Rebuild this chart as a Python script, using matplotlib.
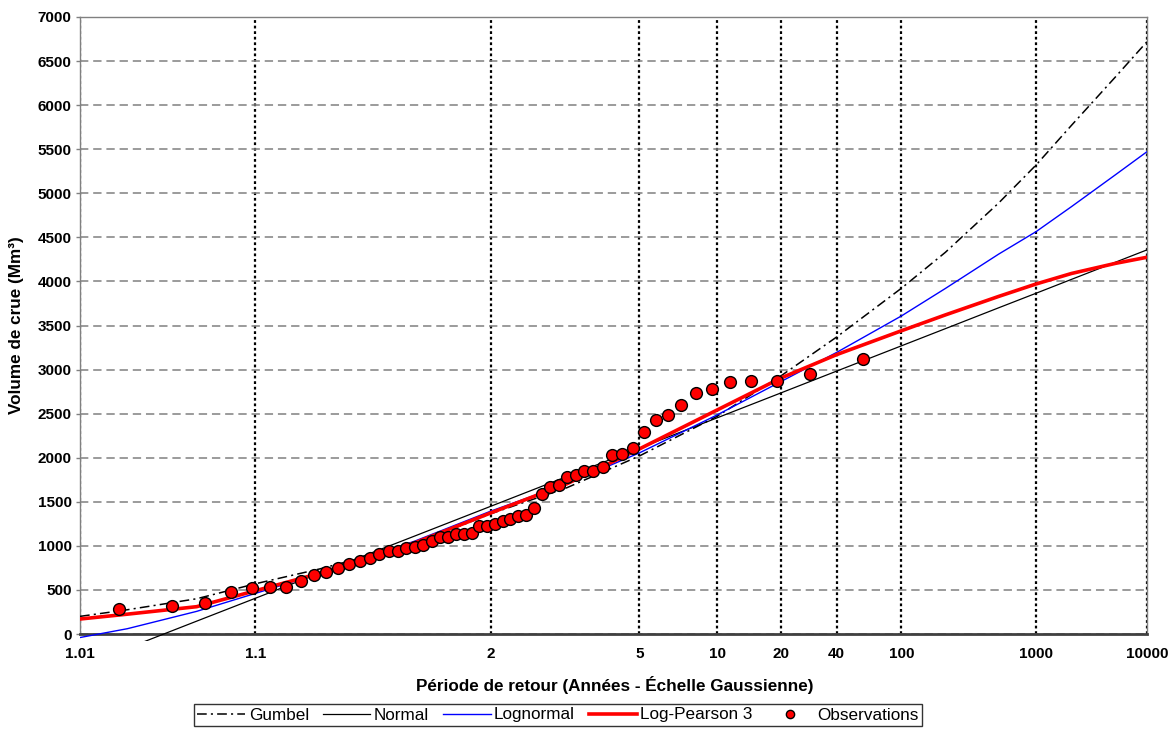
import numpy as np
import matplotlib
matplotlib.use('Agg')
import matplotlib.pyplot as plt
from matplotlib.patches import Rectangle
from matplotlib.ticker import NullLocator
from statistics import NormalDist

plt.rcParams['font.family'] = ['Liberation Sans', 'DejaVu Sans']
plt.rcParams['lines.scale_dashes'] = False

# periodes de retour ou les courbes ajustees sont lues
periodes = [1.01, 1.02, 1.05, 1.1, 1.2, 1.5, 2, 3, 5, 10, 20, 40,
            100, 200, 500, 1000, 2000, 5000, 10000]
gumbel = [200, 275, 400, 570, 740, 1025, 1365, 1660, 2020, 2470, 2930, 3370,
          3922, 4330, 4890, 5321, 5770, 6320, 6720]
normal = [-369, -162, 146, 406, 694, 1113, 1450, 1787, 2108, 2452, 2736, 2983,
          3269, 3464, 3701, 3866, 4023, 4218, 4358]
lognormal = [-40, 60, 257, 461, 690, 1055, 1395, 1705, 2055, 2485, 2865, 3195,
             3608, 3920, 4310, 4565, 4848, 5210, 5472]
log_pearson3 = [170, 225, 310, 491, 690, 1035, 1375, 1705, 2100, 2541, 2905, 3170,
                3440, 3620, 3830, 3971, 4090, 4205, 4274]

# volumes de crue observes, classes par ordre croissant (Mm3)
observations = [285, 320, 350, 474, 524, 531, 533, 601, 669, 703, 749, 794,
                828, 862, 908, 942, 942, 976, 987, 1010, 1055, 1100, 1100, 1135,
                1135, 1145, 1225, 1225, 1248, 1282, 1305, 1339, 1350, 1425, 1588, 1672,
                1690, 1781, 1804, 1849, 1849, 1895, 2031, 2042, 2110, 2292, 2428, 2485,
                2598, 2734, 2780, 2859, 2870, 2870, 2950, 3120]

ticks_T = [1.01, 1.1, 2, 5, 10, 20, 40, 100, 1000, 10000]
ticks_lbl = ['1.01', '1.1', '2', '5', '10', '20', '40', '100', '1000', '10000']
ticks_y = list(range(0, 7001, 500))

nd = NormalDist()


def _ppf(p):
    if 0 < p < 1:
        return nd.inv_cdf(p)
    return np.nan


def gauss(T):
    # periode de retour -> variable reduite de Gauss
    T = np.asarray(T, dtype=float)
    with np.errstate(divide='ignore', invalid='ignore'):
        p = 1 - 1 / T
    return np.vectorize(_ppf, otypes=[float])(p)


def gauss_inv(z):
    z = np.asarray(z, dtype=float)
    c = np.vectorize(lambda v: nd.cdf(v) if np.isfinite(v) else np.nan, otypes=[float])(z)
    with np.errstate(divide='ignore', invalid='ignore'):
        return 1 / (1 - c)


# position de Weibull
n = len(observations)
rang = np.arange(1, n + 1)
T_obs = (n + 1) / (n + 1 - rang)

fig = plt.figure(figsize=(11.72, 7.29), dpi=100)
ax = fig.add_axes([80 / 1172, 1 - 634 / 729, 1067 / 1172, 617 / 729])
ax.set_xscale('function', functions=(gauss, gauss_inv))

clip = Rectangle((0, -0.012), 1, 1.012, transform=ax.transAxes)

l1, = ax.plot(periodes, gumbel, color='black', lw=1.1, linestyle=(0, (7, 3, 1.5, 3)),
              label='Gumbel', zorder=3)
l2, = ax.plot(periodes, normal, color='black', lw=0.9, label='Normal', zorder=3)
l3, = ax.plot(periodes, lognormal, color='#0000ff', lw=1.0, label='Lognormal', zorder=3)
l4, = ax.plot(periodes, log_pearson3, color='#ff0000', lw=2.6, label='Log-Pearson 3', zorder=4)
for l in (l1, l2, l3, l4):
    l.set_clip_path(clip)
l5, = ax.plot(T_obs, observations, 'o', ms=8.5, mfc='#ff0000', mec='black', mew=1.0,
              label='Observations', zorder=5, clip_on=False)

ax.set_xlim(1.01, 10000)
ax.set_ylim(0, 7000)
ax.set_xticks(ticks_T, labels=ticks_lbl, fontweight='bold', fontsize=11)
ax.xaxis.set_minor_locator(NullLocator())
ax.set_yticks(ticks_y, labels=[str(v) for v in ticks_y], fontweight='bold', fontsize=11)
ax.tick_params(axis='x', length=0, pad=9)
ax.tick_params(axis='y', length=3, width=1, color='#808080', pad=3)

ax.grid(axis='x', color='black', linestyle=(0, (2, 2)), linewidth=1.6, zorder=1)
ax.grid(axis='y', color='#808080', linestyle=(0, (6, 3.5)), linewidth=1.1, zorder=1)
ax.set_axisbelow(True)

for s in ('top', 'right', 'left'):
    ax.spines[s].set_color('#808080')
    ax.spines[s].set_linewidth(1)
ax.spines['bottom'].set_color('#404040')
ax.spines['bottom'].set_linewidth(2)

fig.text(615 / 1172, 1 - 685 / 729, 'Période de retour (Années - Échelle Gaussienne)',
         ha='center', va='center', fontweight='bold', fontsize=12.3)
fig.text(17 / 1172, 1 - 325 / 729, 'Volume de crue (Mm³)', rotation=90,
         ha='center', va='center', fontweight='bold', fontsize=12.3)

leg = fig.legend(handles=[l1, l2, l3, l4, l5], loc='center', bbox_to_anchor=(558 / 1172, 1 - 715 / 729),
                 ncol=5, fontsize=12.3, frameon=True, fancybox=False, edgecolor='black',
                 handlelength=2.8, handletextpad=0.2, columnspacing=0.8, borderpad=0.2,
                 markerscale=0.7, borderaxespad=0)
leg.get_frame().set_linewidth(1)

fig.savefig('out.png', dpi=100)
